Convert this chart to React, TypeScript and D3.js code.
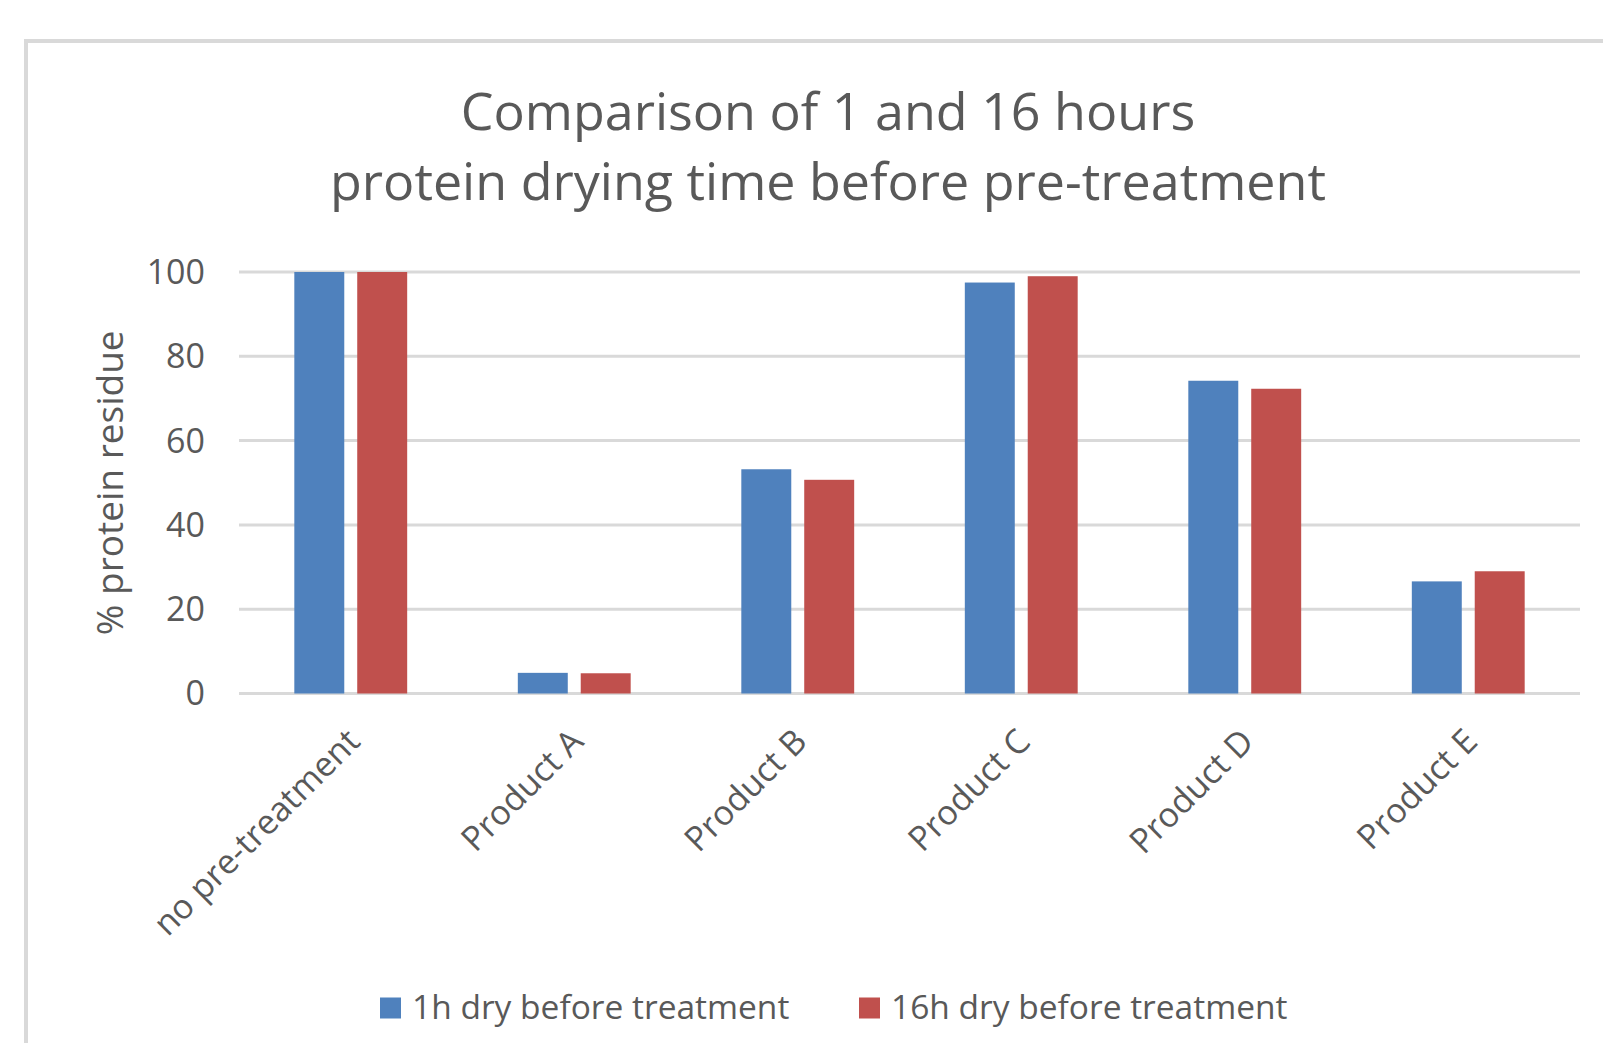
import React, { useEffect, useRef } from 'react';
import * as d3 from 'd3';

// values
const categories = ['no pre-treatment', 'Product A', 'Product B', 'Product C', 'Product D', 'Product E'];
const seriesNames = ['1h dry before treatment', '16h dry before treatment'];
const dry1h = [100, 4.9, 53.2, 97.5, 74.2, 26.6];
const dry16h = [100, 4.8, 50.7, 99.0, 72.3, 29.0];
const seriesColors = ['#4F81BD', '#C0504D'];
const yTicks = [0, 20, 40, 60, 80, 100];
const titleLines = ['Comparison of 1 and 16 hours', 'protein drying time before pre-treatment'];

const W = 1603;
const H = 1043;
const FONT = "'Open Sans', 'Noto Sans', sans-serif";
const TEXT = '#595959';
const GRID = '#d9d9d9';

export default function App() {
  const svgRef = useRef<SVGSVGElement>(null);

  useEffect(() => {
    if (!svgRef.current) return;
    const svg = d3.select(svgRef.current);
    svg.selectAll('*').remove();

    // chart frame (only top + left edges visible, rest cropped)
    svg.append('rect')
      .attr('x', 26).attr('y', 41)
      .attr('width', W).attr('height', H)
      .attr('fill', '#fff')
      .attr('stroke', GRID)
      .attr('stroke-width', 4);

    // plot area
    const left = 239, right = 1580, top = 272, bottom = 693.5;

    const x0 = d3.scaleBand<string>().domain(categories).range([left, right]).padding(0);
    const groupW = x0.bandwidth() * 0.505;
    const x1 = d3.scaleBand<string>()
      .domain(seriesNames)
      .range([(x0.bandwidth() - groupW) / 2, (x0.bandwidth() + groupW) / 2])
      .paddingInner(0.206);
    const y = d3.scaleLinear().domain([0, 100]).range([bottom, top]);

    // title
    const title = svg.append('g').attr('font-family', FONT).attr('fill', TEXT)
      .attr('font-size', 52).attr('text-anchor', 'middle');
    title.selectAll('text').data(titleLines).enter().append('text')
      .attr('x', 828)
      .attr('y', (_, i) => 130 + i * 70)
      .text(d => d);

    // gridlines
    svg.append('g').selectAll('line').data(yTicks).enter().append('line')
      .attr('x1', left).attr('x2', right)
      .attr('y1', d => y(d)).attr('y2', d => y(d))
      .attr('stroke', GRID).attr('stroke-width', 3);

    // y tick labels
    svg.append('g').attr('font-family', FONT).attr('font-size', 34).attr('fill', TEXT)
      .attr('text-anchor', 'end')
      .selectAll('text').data(yTicks).enter().append('text')
      .attr('x', 205)
      .attr('y', d => y(d))
      .attr('dy', '0.35em')
      .text(d => d);

    // y axis title
    svg.append('text')
      .attr('transform', `translate(123, ${(top + bottom) / 2}) rotate(-90)`)
      .attr('text-anchor', 'middle')
      .attr('font-family', FONT).attr('font-size', 37).attr('fill', TEXT)
      .text('% protein residue');

    // bars
    const series = [dry1h, dry16h];
    series.forEach((vals, si) => {
      svg.append('g').selectAll('rect').data(vals).enter().append('rect')
        .attr('x', (_, i) => (x0(categories[i]) ?? 0) + (x1(seriesNames[si]) ?? 0))
        .attr('y', d => y(d))
        .attr('width', x1.bandwidth())
        .attr('height', d => y(0) - y(d))
        .attr('fill', seriesColors[si]);
    });

    // category labels, rotated
    svg.append('g').attr('font-family', FONT).attr('font-size', 34).attr('fill', TEXT)
      .attr('text-anchor', 'end')
      .selectAll('text').data(categories).enter().append('text')
      .attr('transform', d => `translate(${(x0(d) ?? 0) + x0.bandwidth() / 2 + 11}, ${bottom + 50}) rotate(-45)`)
      .text(d => d);

    // legend
    const legendX = [380, 859];
    const leg = svg.append('g').attr('font-family', FONT).attr('font-size', 33.5).attr('fill', TEXT);
    seriesNames.forEach((name, i) => {
      leg.append('rect')
        .attr('x', legendX[i]).attr('y', 997.5)
        .attr('width', 21).attr('height', 21)
        .attr('fill', seriesColors[i]);
      leg.append('text')
        .attr('x', legendX[i] + 32).attr('y', 1019)
        .text(name);
    });
  }, []);

  return (
    <div style={{ position: 'absolute', left: 0, top: 0, width: W, height: H, background: '#fff' }}>
      <svg ref={svgRef} width={W} height={H} style={{ display: 'block' }}></svg>
    </div>
  );
}
